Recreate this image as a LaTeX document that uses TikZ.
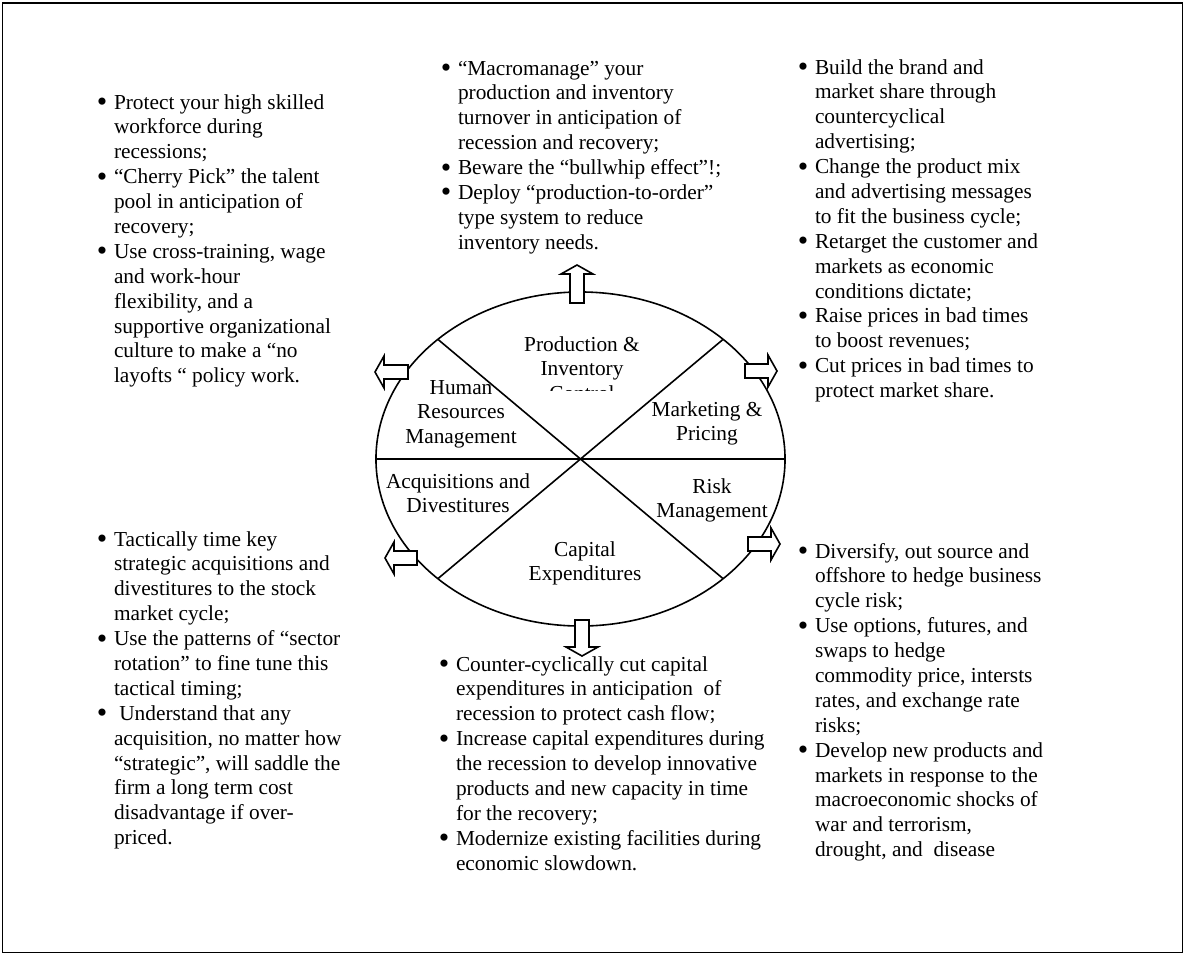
\documentclass[tikz,border=0pt]{standalone}
\usepackage{fontspec}
\usepackage{graphicx}
\setmainfont{Liberation Serif}
\usetikzlibrary{shapes.geometric}
\newcommand{\bi}{\makebox[9pt][l]{\hspace*{-0.6pt}\smash{\raisebox{-1.4pt}{\scalebox{1.4}{\textbullet}}}}}
\begin{document}
\begin{tikzpicture}[x=0.5625pt,y=-0.5625pt,
  txt/.style={inner sep=0pt,outer sep=0pt,font=\fontsize{12}{14}\selectfont},
  bullets/.style={txt,anchor=base west},
  sector/.style={txt,anchor=base},
  rim/.style={line width=0.9pt},
  pics/blockarr/.style={code={
    \draw[rim,fill=white] (0,-7) -- (#1-9,-7) -- (#1-9,-16) -- (#1,0)
      -- (#1-9,16) -- (#1-9,7) -- (0,7) -- cycle;}}
]
\useasboundingbox (0,0) rectangle (1184,954);
% outer frame
\draw[line width=1.1pt] (2.5,3) rectangle (1182.5,952.5);

% the wheel and its six sectors
\node[draw,rim,ellipse,inner sep=0pt,outer sep=0pt,
      minimum width=230.1pt,minimum height=187.9pt] (wheel) at (580.5,459) {};
\draw[rim] (wheel.180) -- (wheel.0);
\draw[rim] (wheel.140) -- (wheel.-40);
\draw[rim] (wheel.40) -- (wheel.220);

% sector names
\begin{scope}
  \clip (470,300) rectangle (700,390);
  \node[sector] (prod) at (582,351)
    {\begin{tabular}[t]{@{}c@{}}Production \&\\Inventory\\Control\end{tabular}};
\end{scope}
\node[sector] (hr) at (461,394)
  {\begin{tabular}[t]{@{}c@{}}Human\\Resources\\Management\end{tabular}};
\node[sector] (mkt) at (707,416)
  {\begin{tabular}[t]{@{}c@{}}Marketing \&\\Pricing\end{tabular}};
\node[sector] (acq) at (458,488)
  {\begin{tabular}[t]{@{}c@{}}Acquisitions and\\Divestitures\end{tabular}};
\node[sector] (risk) at (712,493)
  {\begin{tabular}[t]{@{}c@{}}Risk\\Management\end{tabular}};
\node[sector] (capex) at (585,556)
  {\begin{tabular}[t]{@{}c@{}}Capital\\Expenditures\end{tabular}};

% outward block arrows
\pic[rotate=90]  (arrUp) at (577,303) {blockarr=38};
\pic[rotate=-90] (arrDown) at (582,620) {blockarr=36};
\pic[rotate=180] (arrUL) at (408,372) {blockarr=33};
\pic             (arrUR) at (745,371) {blockarr=32};
\pic[rotate=180] (arrLL) at (417,558) {blockarr=32};
\pic             (arrLR) at (748,544) {blockarr=32};

% bullet lists
\node[bullets] (listHR) at (98,109) {\begin{tabular}[t]{@{}l@{}l@{}}
\bi & Protect your high skilled\\
    & workforce during\\
    & recessions;\\
\bi & “Cherry Pick” the talent\\
    & pool in anticipation of\\
    & recovery;\\
\bi & Use cross-training, wage\\
    & and work-hour\\
    & flexibility, and a\\
    & supportive organizational\\
    & culture to make a “no\\
    & layofts “ policy work.
\end{tabular}};

\node[bullets] (listProd) at (442,75) {\begin{tabular}[t]{@{}l@{}l@{}}
\bi & “Macromanage” your\\
    & production and inventory\\
    & turnover in anticipation of\\
    & recession and recovery;\\
\bi & Beware the “bullwhip effect”!;\\
\bi & Deploy “production-to-order”\\
    & type system to reduce\\
    & inventory needs.
\end{tabular}};

\node[bullets] (listMkt) at (799,74) {\begin{tabular}[t]{@{}l@{}l@{}}
\bi & Build the brand and\\
    & market share through\\
    & countercyclical\\
    & advertising;\\
\bi & Change the product mix\\
    & and advertising messages\\
    & to fit the business cycle;\\
\bi & Retarget the customer and\\
    & markets as economic\\
    & conditions dictate;\\
\bi & Raise prices in bad times\\
    & to boost revenues;\\
\bi & Cut prices in bad times to\\
    & protect market share.
\end{tabular}};

\node[bullets] (listAcq) at (98,546) {\begin{tabular}[t]{@{}l@{}l@{}}
\bi & Tactically time key\\
    & strategic acquisitions and\\
    & divestitures to the stock\\
    & market cycle;\\
\bi & Use the patterns of “sector\\
    & rotation” to fine tune this\\
    & tactical timing;\\
\bi & \hspace*{0.25em}Understand that any\\
    & acquisition, no matter how\\
    & “strategic”, will saddle the\\
    & firm a long term cost\\
    & disadvantage if over-\\
    & priced.
\end{tabular}};

\node[bullets] (listCapex) at (440,671) {\begin{tabular}[t]{@{}l@{}l@{}}
\bi & Counter-cyclically cut capital\\
    & expenditures in anticipation\ \ of\\
    & recession to protect cash flow;\\
\bi & Increase capital expenditures during\\
    & the recession to develop innovative\\
    & products and new capacity in time\\
    & for the recovery;\\
\bi & Modernize existing facilities during\\
    & economic slowdown.
\end{tabular}};

\node[bullets] (listRisk) at (799,558) {\begin{tabular}[t]{@{}l@{}l@{}}
\bi & Diversify, out source and\\
    & offshore to hedge business\\
    & cycle risk;\\
\bi & Use options, futures, and\\
    & swaps to hedge\\
    & commodity price, intersts\\
    & rates, and exchange rate\\
    & risks;\\
\bi & Develop new products and\\
    & markets in response to the\\
    & macroeconomic shocks of\\
    & war and terrorism,\\
    & drought, and\ \ disease
\end{tabular}};
\end{tikzpicture}
\end{document}
